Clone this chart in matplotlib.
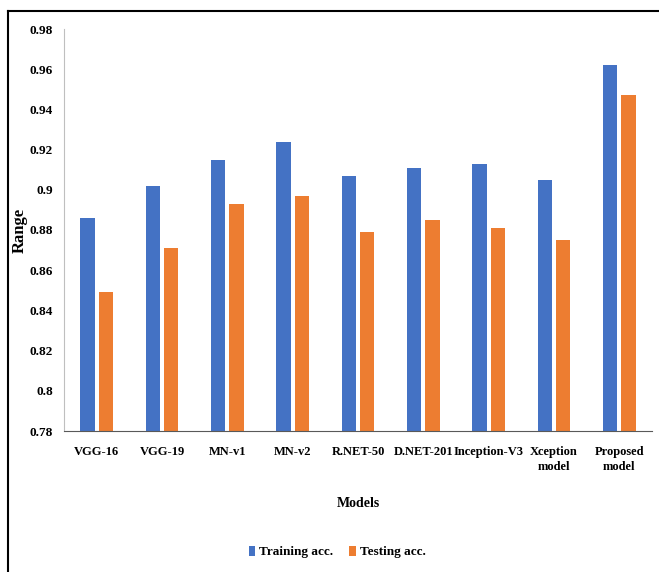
import numpy as np
import matplotlib
matplotlib.use("Agg")
import matplotlib.pyplot as plt
from matplotlib.lines import Line2D

# accuracy of each model on the training and testing splits
models = ["VGG-16", "VGG-19", "MN-v1", "MN-v2", "R.NET-50", "D.NET-201",
          "Inception-V3", "Xception\nmodel", "Proposed\nmodel"]
training_acc = [0.886, 0.902, 0.915, 0.924, 0.907, 0.911, 0.913, 0.905, 0.962]
testing_acc = [0.849, 0.871, 0.893, 0.897, 0.879, 0.885, 0.881, 0.875, 0.947]
y_ticks = [0.78, 0.80, 0.82, 0.84, 0.86, 0.88, 0.90, 0.92, 0.94, 0.96, 0.98]
y_tick_labels = ["0.78", "0.8", "0.82", "0.84", "0.86", "0.88", "0.9",
                 "0.92", "0.94", "0.96", "0.98"]

plt.rcParams["font.family"] = ["Liberation Serif", "DejaVu Serif"]
plt.rcParams["font.weight"] = "bold"
plt.rcParams["axes.labelweight"] = "bold"
plt.rcParams["font.size"] = 10

W, H = 659, 572
fig = plt.figure(figsize=(W / 100, H / 100), dpi=100)
ax = fig.add_axes([64 / W, 1 - 431 / H, 588 / W, 402 / H])

x = np.arange(len(models))
width = 0.22
b1 = ax.bar(x - 0.14, training_acc, width, color="#4472C4", label="Training acc.")
b2 = ax.bar(x + 0.14, testing_acc, width, color="#ED7D31", label="Testing acc.")

ax.set_xlim(-0.5, len(models) - 0.5)
ax.set_ylim(0.78, 0.98)
ax.set_yticks(y_ticks)
ax.set_yticklabels(y_tick_labels, fontsize=9.5)
ax.set_xticks(x)
ax.set_xticklabels(models, fontsize=9, linespacing=1.3)
ax.tick_params(axis="y", length=0, pad=8)
ax.tick_params(axis="x", length=0, pad=11)

for side in ["top", "right"]:
    ax.spines[side].set_visible(False)
ax.spines["left"].set_color("#BFBFBF")
ax.spines["bottom"].set_color("#595959")

ax.set_xlabel("Models", fontsize=10, labelpad=17)
ax.set_ylabel("Range", fontsize=12)
ax.yaxis.set_label_coords(-0.062, 0.5)

fig.legend(handles=[b1, b2], loc="center", bbox_to_anchor=(337 / W, 1 - 552 / H),
           ncol=2, frameon=False, fontsize=9.5, handlelength=0.5, handleheight=0.8,
           handletextpad=0.3, columnspacing=1.2)

# outer frame, only left and top edges
fig.add_artist(Line2D([8 / W, 8 / W], [0, 1 - 11 / H], color="black", lw=1.5))
fig.add_artist(Line2D([8 / W, 1], [1 - 11 / H, 1 - 11 / H], color="black", lw=1.5))

fig.savefig("out.png", dpi=100)
